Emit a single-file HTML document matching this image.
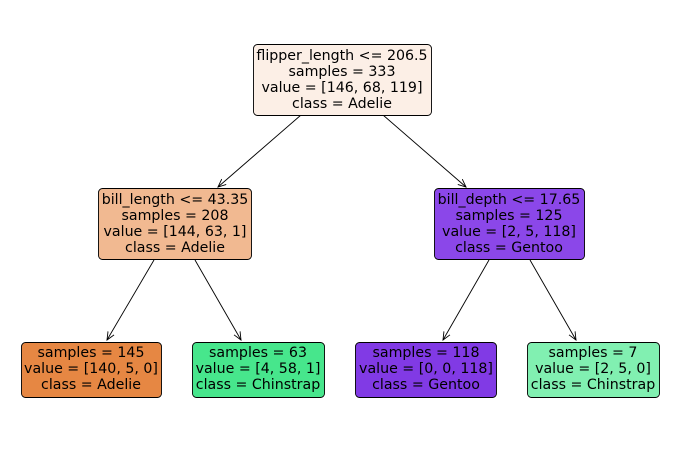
<!DOCTYPE html>
<html><head><meta charset="utf-8"><style>body{margin:0;background:#fff}svg{display:block}</style></head>
<body>
<svg width="683" height="449" xmlns="http://www.w3.org/2000/svg" font-family="DejaVu Sans, sans-serif" font-size="14.2" text-anchor="middle" fill="#000">
<defs><marker id="a" markerWidth="10" markerHeight="10" refX="8" refY="4" orient="auto" markerUnits="userSpaceOnUse"><path d="M0,0.5 L8,4 L0,7.5" fill="none" stroke="#000" stroke-width="0.9"/></marker></defs>
<g stroke="#000" stroke-width="0.9" marker-end="url(#a)">
<line x1="301" y1="115" x2="218" y2="187"/>
<line x1="383" y1="115" x2="466" y2="187"/>
<line x1="154" y1="260" x2="107" y2="340"/>
<line x1="195" y1="260" x2="241" y2="340"/>
<line x1="489" y1="260" x2="443" y2="340"/>
<line x1="530" y1="260" x2="576" y2="340"/>
</g>
<g stroke="#000" stroke-width="0.9">
<rect x="253.5" y="44.5" width="178" height="71" rx="4" fill="#fcefe6"/>
<rect x="98.5" y="188.5" width="153" height="71" rx="4" fill="#f1b991"/>
<rect x="434.5" y="188.5" width="150" height="71" rx="4" fill="#8b47e9"/>
<rect x="21.5" y="342.5" width="140" height="55" rx="4" fill="#e68743"/>
<rect x="192.5" y="342.5" width="132" height="55" rx="4" fill="#47e68c"/>
<rect x="355.5" y="342.5" width="141" height="55" rx="4" fill="#813ae5"/>
<rect x="527.5" y="342.5" width="132" height="55" rx="4" fill="#81f0b1"/>
</g>
<g>
<text x="342" y="60">flipper_length &lt;= 206.5</text><text x="342" y="76">samples = 333</text><text x="342" y="92">value = [146, 68, 119]</text><text x="342" y="108">class = Adelie</text>
<text x="175" y="204">bill_length &lt;= 43.35</text><text x="175" y="220">samples = 208</text><text x="175" y="236">value = [144, 63, 1]</text><text x="175" y="252">class = Adelie</text>
<text x="509" y="204">bill_depth &lt;= 17.65</text><text x="509" y="220">samples = 125</text><text x="509" y="236">value = [2, 5, 118]</text><text x="509" y="252">class = Gentoo</text>
<text x="91" y="357">samples = 145</text><text x="91" y="373">value = [140, 5, 0]</text><text x="91" y="389">class = Adelie</text>
<text x="258" y="357">samples = 63</text><text x="258" y="373">value = [4, 58, 1]</text><text x="258" y="389">class = Chinstrap</text>
<text x="426" y="357">samples = 118</text><text x="426" y="373">value = [0, 0, 118]</text><text x="426" y="389">class = Gentoo</text>
<text x="593" y="357">samples = 7</text><text x="593" y="373">value = [2, 5, 0]</text><text x="593" y="389">class = Chinstrap</text>
</g>
</svg>
</body></html>
